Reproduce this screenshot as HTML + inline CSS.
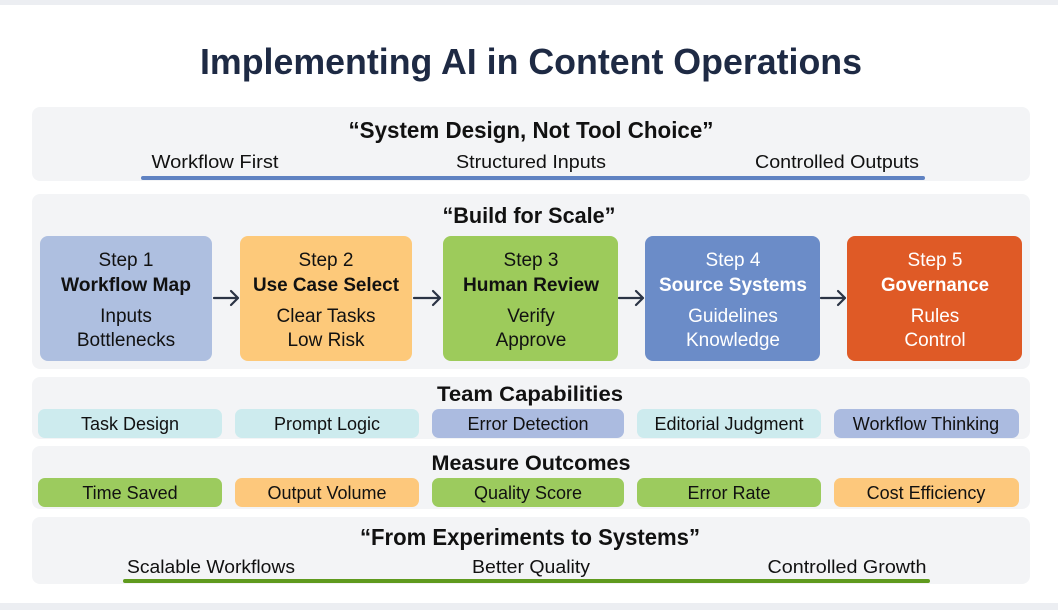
<!DOCTYPE html>
<html><head><meta charset="utf-8"><style>
html,body{margin:0;padding:0;background:#fff;}
svg{display:block;font-family:"Liberation Sans",Arial,sans-serif;}
</style></head><body>
<svg width="1058" height="610" viewBox="0 0 1058 610" xmlns="http://www.w3.org/2000/svg">
<rect x="0" y="0" width="1058" height="610" fill="#fff"/>
<rect x="0" y="0" width="1058" height="5" fill="#eceef2"/>
<rect x="0" y="603" width="1058" height="7" fill="#eceef2"/>
<text x="531" y="74" font-size="36" font-weight="bold" fill="#1e2a44" text-anchor="middle" textLength="662" lengthAdjust="spacingAndGlyphs">Implementing AI in Content Operations</text>

<!-- panels -->
<g fill="#f3f4f6">
<rect x="32" y="107" width="998" height="74" rx="8"/>
<rect x="32" y="194" width="998" height="175" rx="8"/>
<rect x="32" y="377" width="998" height="62" rx="8"/>
<rect x="32" y="446" width="998" height="63" rx="8"/>
<rect x="32" y="517" width="998" height="67" rx="8"/>
</g>

<g fill="#111" text-anchor="middle">
<text x="531" y="138" font-size="23" font-weight="bold" textLength="365" lengthAdjust="spacingAndGlyphs">“System Design, Not Tool Choice”</text>
<text x="215" y="168" font-size="18" textLength="127" lengthAdjust="spacingAndGlyphs">Workflow First</text>
<text x="531" y="168" font-size="18" textLength="150" lengthAdjust="spacingAndGlyphs">Structured Inputs</text>
<text x="837" y="168" font-size="18" textLength="164" lengthAdjust="spacingAndGlyphs">Controlled Outputs</text>
</g>
<rect x="141" y="176" width="784" height="4" rx="2" fill="#5f82c2"/>

<text x="529" y="223" font-size="22" font-weight="bold" fill="#111" text-anchor="middle" textLength="173" lengthAdjust="spacingAndGlyphs">“Build for Scale”</text>

<!-- step boxes -->
<rect x="40" y="236" width="172" height="125" rx="8" fill="#aebfe0"/>
<rect x="240" y="236" width="172" height="125" rx="8" fill="#fdc97a"/>
<rect x="443" y="236" width="175" height="125" rx="8" fill="#9dcb5b"/>
<rect x="645" y="236" width="175" height="125" rx="8" fill="#6b8cc8"/>
<rect x="847" y="236" width="175" height="125" rx="8" fill="#df5a26"/>

<g text-anchor="middle" font-size="19">
<g fill="#111">
<text x="126" y="266">Step 1</text>
<text x="126" y="291" font-weight="bold" textLength="130" lengthAdjust="spacingAndGlyphs">Workflow Map</text>
<text x="126" y="322">Inputs</text>
<text x="126" y="346">Bottlenecks</text>
<text x="326" y="266">Step 2</text>
<text x="326" y="291" font-weight="bold" textLength="146" lengthAdjust="spacingAndGlyphs">Use Case Select</text>
<text x="326" y="322">Clear Tasks</text>
<text x="326" y="346">Low Risk</text>
<text x="531" y="266">Step 3</text>
<text x="531" y="291" font-weight="bold" textLength="136" lengthAdjust="spacingAndGlyphs">Human Review</text>
<text x="531" y="322">Verify</text>
<text x="531" y="346">Approve</text>
</g>
<g fill="#fff">
<text x="733" y="266">Step 4</text>
<text x="733" y="291" font-weight="bold" textLength="148" lengthAdjust="spacingAndGlyphs">Source Systems</text>
<text x="733" y="322">Guidelines</text>
<text x="733" y="346">Knowledge</text>
<text x="935" y="266">Step 5</text>
<text x="935" y="291" font-weight="bold" textLength="108" lengthAdjust="spacingAndGlyphs">Governance</text>
<text x="935" y="322">Rules</text>
<text x="935" y="346">Control</text>
</g>
</g>

<!-- arrows -->
<g stroke="#2b3445" stroke-width="2.2" fill="none" stroke-linecap="round" stroke-linejoin="round">
<path d="M214 298 H238 M231 291 L238 298 L231 305"/>
<path d="M414 298 H440 M433 291 L440 298 L433 305"/>
<path d="M619 298 H643 M636 291 L643 298 L636 305"/>
<path d="M821 298 H845 M838 291 L845 298 L838 305"/>
</g>

<!-- team capabilities -->
<text x="530" y="401" font-size="21" font-weight="bold" fill="#111" text-anchor="middle" textLength="186" lengthAdjust="spacingAndGlyphs">Team Capabilities</text>
<rect x="38" y="409" width="184" height="29" rx="7" fill="#cdebee"/>
<rect x="235" y="409" width="184" height="29" rx="7" fill="#cdebee"/>
<rect x="432" y="409" width="192" height="29" rx="7" fill="#abbbe0"/>
<rect x="637" y="409" width="184" height="29" rx="7" fill="#cdebee"/>
<rect x="834" y="409" width="185" height="29" rx="7" fill="#abbbe0"/>
<g font-size="18" fill="#111" text-anchor="middle">
<text x="130" y="430">Task Design</text>
<text x="327" y="430">Prompt Logic</text>
<text x="528" y="430">Error Detection</text>
<text x="729" y="430">Editorial Judgment</text>
<text x="926" y="430">Workflow Thinking</text>
</g>

<!-- measure outcomes -->
<text x="531" y="470" font-size="21" font-weight="bold" fill="#111" text-anchor="middle" textLength="199" lengthAdjust="spacingAndGlyphs">Measure Outcomes</text>
<rect x="38" y="478" width="184" height="29" rx="7" fill="#9ccb5e"/>
<rect x="235" y="478" width="184" height="29" rx="7" fill="#fdc87c"/>
<rect x="432" y="478" width="192" height="29" rx="7" fill="#9ccb5e"/>
<rect x="637" y="478" width="184" height="29" rx="7" fill="#9ccb5e"/>
<rect x="834" y="478" width="185" height="29" rx="7" fill="#fdc87c"/>
<g font-size="18" fill="#111" text-anchor="middle">
<text x="130" y="499">Time Saved</text>
<text x="327" y="499">Output Volume</text>
<text x="528" y="499">Quality Score</text>
<text x="729" y="499">Error Rate</text>
<text x="926" y="499">Cost Efficiency</text>
</g>

<!-- from experiments -->
<text x="530" y="545" font-size="23" font-weight="bold" fill="#111" text-anchor="middle" textLength="340" lengthAdjust="spacingAndGlyphs">“From Experiments to Systems”</text>
<g font-size="18" fill="#111" text-anchor="middle">
<text x="211" y="573" textLength="168" lengthAdjust="spacingAndGlyphs">Scalable Workflows</text>
<text x="531" y="573" textLength="118" lengthAdjust="spacingAndGlyphs">Better Quality</text>
<text x="847" y="573" textLength="159" lengthAdjust="spacingAndGlyphs">Controlled Growth</text>
</g>
<rect x="123" y="579" width="807" height="4" rx="2" fill="#5f9a1e"/>
</svg>
</body></html>
